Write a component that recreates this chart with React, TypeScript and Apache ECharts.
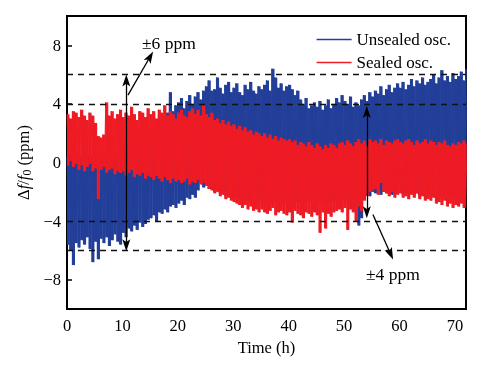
import React, { useEffect, useRef } from "react";
import * as echarts from "echarts";

// sample spacing of the envelope arrays (hours)
const STEP = 0.5;

// Unsealed oscillator: upper / lower envelope of the noise band (ppm), one value per 0.5 h
const unsealedHigh = [
  0.4, 0.5, 0.2, 0.6, 0.5, 0.3, 0.1, 0.5, 0.6, 0.4,
  0.5, 0.7, 0.4, 0.3, 0.8, 0.6, 0.5, 0.9, 0.7, 0.8,
  1.1, 0.9, 1.3, 1.4, 1.2, 1.6, 1.4, 1.7, 1.9, 1.6,
  2.2, 2.5, 2.4, 2.9, 2.7, 3.2, 3.4, 4.8, 3.5, 3.9,
  4.1, 4.4, 3.7, 4.2, 4.6, 4.0, 4.5, 4.8, 4.3, 4.9,
  5.2, 5.6, 4.9, 5.0, 5.8, 5.1, 4.7, 5.3, 5.5, 4.8,
  5.1, 5.4, 4.8, 4.6, 5.3, 5.0, 5.5, 4.9, 4.7, 5.2,
  5.0, 5.3, 5.6, 4.9, 6.4, 5.8, 5.1, 5.4, 4.9, 5.2,
  5.3, 5.0, 4.6, 4.9, 4.3, 4.0, 4.4, 3.7, 3.9, 4.1,
  3.8, 4.2, 3.6, 3.9, 4.3, 3.7, 4.0, 4.4, 4.1, 4.6,
  4.2, 4.0, 4.5, 3.8, 4.1, 3.9, 4.3, 4.6, 4.2, 4.8,
  4.5, 4.9, 4.7, 5.2, 4.6, 5.0, 5.3, 4.8, 5.1, 5.4,
  5.1, 5.5, 5.0, 5.3, 5.7, 5.2, 5.6, 5.4, 5.8, 5.3,
  5.5, 5.7, 6.0, 5.4, 5.8, 6.3, 5.6, 5.9, 5.5, 6.1,
  5.7, 5.9, 6.2, 5.6, 6.4,
];
const unsealedLow = [
  -5.6, -6.0, -7.0, -5.5, -5.8, -5.3, -5.6, -5.1, -5.9, -6.8,
  -5.4, -6.6, -5.2, -5.5, -5.1, -5.7, -5.3, -4.9, -5.4, -5.6,
  -4.8, -5.1, -4.5, -4.7, -4.3, -4.6, -4.1, -4.4, -4.2, -3.9,
  -3.8, -3.6, -4.0, -3.4, -3.5, -3.2, -3.4, -3.0, -2.9, -3.1,
  -2.8, -2.6, -2.9, -2.4, -2.5, -2.2, -2.4, -1.9, -1.4, -1.7,
  -1.5, -1.8, -1.7, -2.0, -1.9, -2.1, -2.0, -2.3, -2.2, -2.3,
  -2.3, -2.4, -2.5, -2.4, -2.6, -2.5, -2.7, -2.6, -2.5, -2.6,
  -2.6, -2.7, -2.6, -2.8, -2.6, -2.7, -2.7, -2.8, -2.6, -2.7,
  -2.7, -2.8, -2.6, -2.7, -2.7, -2.8, -2.6, -2.7, -2.7, -2.8,
  -2.7, -2.6, -2.7, -2.8, -2.6, -2.7, -2.6, -2.6, -2.5, -2.6,
  -2.5, -2.6, -2.4, -3.2, -2.5, -4.3, -3.8, -2.3, -2.1, -2.3,
  -2.0, -2.1, -1.9, -2.2, -2.0, -2.1, -2.0, -2.2, -2.1, -2.1,
  -2.0, -2.2, -2.1, -2.1, -2.0, -2.2, -2.1, -2.3, -2.2, -2.2,
  -2.1, -2.3, -2.2, -2.4, -2.3, -2.4, -2.3, -2.4, -2.3, -2.5,
  -2.4, -2.5, -2.5, -2.6, -2.5,
];

// Sealed oscillator
const sealedHigh = [
  3.3, 3.0, 3.5, 3.4, 3.1, 3.6, 3.2, 2.9, 3.4, 3.2,
  2.7, 1.8, 1.7, 1.9, 4.1, 3.2, 3.5, 3.0, 3.3, 3.6,
  3.1, 3.4, 3.2, 3.8, 3.3, 2.9, 3.5, 3.4, 3.1, 3.7,
  3.3, 3.5, 3.0, 3.6, 3.4, 3.9, 3.2, 3.5, 3.3, 3.0,
  3.4, 3.6, 3.2, 3.1, 3.5, 3.7, 3.3, 3.6, 3.2, 3.9,
  3.3, 3.1, 3.4, 2.9, 3.0, 2.7, 2.9, 2.6, 2.8, 2.5,
  2.6, 2.3, 2.5, 2.2, 2.4, 2.1, 2.2, 1.9, 2.1, 2.0,
  1.8, 2.0, 1.7, 1.9, 1.6, 1.8, 1.5, 1.7, 1.6, 1.5,
  1.6, 1.4, 1.5, 1.2, 1.4, 1.3, 1.1, 1.4, 1.2, 1.0,
  1.3, 1.1, 0.9, 1.2, 1.0, 1.3, 1.2, 1.0, 1.3, 1.4,
  1.2, 1.5, 1.3, 1.1, 1.4, 1.6, 1.3, 1.5, 1.2, 1.6,
  1.4, 1.5, 1.3, 1.6, 1.2, 1.5, 1.4, 1.3, 1.5, 1.6,
  1.4, 1.3, 1.5, 1.6, 1.4, 1.2, 1.5, 1.3, 1.4, 1.6,
  1.3, 1.5, 1.4, 1.2, 1.4, 1.3, 1.5, 1.2, 1.1, 1.3,
  1.2, 1.4, 1.3, 1.5, 1.3,
];
const sealedLow = [
  -0.2, 0.1, -0.3, -0.1, -0.5, -0.2, -0.6, -0.3, -0.1, -0.6,
  -0.4, -2.5, -0.5, -0.3, -0.7, -0.5, -0.4, -0.8, -0.6, -0.7,
  -0.6, -0.9, -0.7, -0.5, -1.0, -0.8, -0.9, -0.7, -1.1, -0.9,
  -1.0, -1.2, -0.9, -1.1, -1.3, -1.0, -1.2, -1.4, -1.1, -1.3,
  -1.2, -1.4, -1.3, -1.1, -1.5, -1.3, -1.4, -1.2, -1.5, -1.4,
  -1.6, -1.8, -1.9, -2.1, -2.0, -2.3, -2.2, -2.5, -2.4, -2.6,
  -2.7, -2.8, -2.9, -3.1, -2.9, -3.2, -3.0, -3.3, -3.2, -3.4,
  -3.2, -3.4, -3.5, -3.3, -3.1, -3.6, -3.4, -3.3, -3.5, -3.6,
  -3.4, -4.1, -3.3, -3.5, -3.6, -3.8, -3.4, -3.5, -3.7, -3.4,
  -3.6, -4.8, -3.4, -4.5, -3.5, -3.7, -3.4, -3.3, -3.2, -3.4,
  -3.1, -4.6, -3.2, -3.4, -4.0, -3.0, -3.3, -2.6, -2.3, -2.0,
  -1.9, -1.8, -2.2, -1.4, -2.0, -2.1, -2.3, -2.0, -2.4, -2.2,
  -2.1, -2.4, -2.3, -2.5, -2.2, -2.4, -2.1, -2.5, -2.3, -2.6,
  -2.5, -2.6, -2.4, -2.8, -2.7, -2.9, -2.6, -3.0, -2.8, -3.1,
  -2.9, -3.0, -2.8, -3.1, -3.0,
];

const xTicks = [0, 10, 20, 30, 40, 50, 60, 70];
const yTicks = [-8, -4, 0, 4, 8];
const limitLines = [6, 4, -4, -6];
const seriesNames = ["Unsealed osc.", "Sealed osc."];

const BLUE = "#233f99";
const RED = "#ee1c25";
const FONT = "Liberation Serif";
const FS = 16.5;
const ARROW = "path://M5,0 L10,13 L5,10 L0,13 Z";

function zigzag(hi: number[], lo: number[]) {
  const out: number[][] = [];
  hi.forEach((h, k) => {
    out.push([k * STEP, h]);
    out.push([k * STEP + STEP / 2, lo[k]]);
  });
  return out;
}

// solid band: one rect per sample, from the lower to the upper envelope
function band(name: string, hi: number[], lo: number[], color: string, z: number) {
  return [
    {
      name: name + " band", type: "custom", silent: true, clip: true, z,
      data: hi.map((h, k) => [k * STEP, lo[k], h]),
      encode: { x: 0, y: [1, 2] },
      renderItem: (_p: any, api: any) => {
        const t = api.value(0);
        const a = api.coord([t - STEP / 4, api.value(2)]);
        const b = api.coord([t + STEP * 0.75, api.value(1)]);
        return {
          type: "rect",
          shape: { x: a[0], y: a[1], width: b[0] - a[0] + 0.4, height: b[1] - a[1] },
          style: { fill: color },
        };
      },
    },
    {
      name, type: "line", symbol: "none", silent: true, z,
      data: zigzag(hi, lo), lineStyle: { color, width: 0.9 }, itemStyle: { color },
    },
  ];
}

export default function App() {
  const ref = useRef<HTMLDivElement>(null);
  useEffect(() => {
    if (!ref.current) return;
    const chart = echarts.init(ref.current, null, { renderer: "svg" });
    const txt = { fontFamily: FONT, fontSize: FS, color: "#000" };
    chart.setOption({
      animation: false,
      textStyle: txt,
      grid: {
        left: 67, right: 24, top: 16, bottom: 56,
        show: true, borderColor: "#000", borderWidth: 2, backgroundColor: "transparent",
      },
      legend: {
        orient: "vertical", right: 34, top: 26, icon: "rect", itemWidth: 35, itemHeight: 1.5, itemGap: 6,
        textStyle: { fontFamily: FONT, fontSize: 17, color: "#000" },
        data: seriesNames,
      },
      xAxis: {
        type: "value", min: 0, max: 72,
        name: "Time (h)", nameLocation: "middle", nameGap: 30,
        nameTextStyle: txt,
        axisLine: { lineStyle: { color: "#000", width: 2 } },
        axisTick: { inside: true, length: 5, customValues: xTicks, lineStyle: { color: "#000", width: 1.5 } },
        axisLabel: { customValues: xTicks, ...txt, margin: 8 },
        splitLine: { show: false },
      },
      yAxis: {
        type: "value", min: -10, max: 10,
        name: "{d|Δ}{i|f}{d|/}{i|f}{s|0}{d| (ppm)}",
        nameLocation: "middle", nameGap: 34, nameRotate: 90,
        nameTextStyle: {
          rich: {
            d: { fontFamily: FONT, fontSize: FS, color: "#000" },
            i: { fontFamily: FONT, fontSize: FS, fontStyle: "italic", color: "#000" },
            s: { fontFamily: FONT, fontSize: 12, color: "#000", padding: [7, 0, 0, 0] },
          },
        },
        axisLine: { lineStyle: { color: "#000", width: 2 } },
        axisTick: { inside: true, length: 5, customValues: yTicks, lineStyle: { color: "#000", width: 1.5 } },
        axisLabel: {
          customValues: yTicks, ...txt, margin: 6,
          formatter: (v: number) => String(v).replace("-", "\u2212"),
        },
        splitLine: { show: false },
      },
      series: [
        ...band(seriesNames[0], unsealedHigh, unsealedLow, BLUE, 2),
        ...band(seriesNames[1], sealedHigh, sealedLow, RED, 3),
        {
          name: "limits", type: "line", data: [], z: 5, silent: true,
          markLine: {
            silent: true, symbol: "none", label: { show: false },
            lineStyle: { color: "#111", type: [6, 5], width: 1.3 },
            emphasis: { disabled: true },
            data: limitLines.map((v) => ({ yAxis: v })),
          },
        },
        {
          name: "arrows", type: "line", data: [], z: 6, silent: true,
          markLine: {
            silent: true, symbolSize: [8, 12], label: { show: false },
            lineStyle: { color: "#000", type: "solid", width: 1.3 },
            emphasis: { disabled: true },
            data: [
              [{ coord: [10.7, 5.6], symbol: ARROW }, { coord: [10.7, -5.65], symbol: ARROW }],
              [{ coord: [11.0, 4.6], symbol: "none" }, { coord: [15.0, 7.22], symbol: ARROW }],
              [{ coord: [54.1, 3.45], symbol: ARROW }, { coord: [54.1, -3.4], symbol: ARROW }],
              [{ coord: [55.2, -3.55], symbol: "none" }, { coord: [58.4, -6.25], symbol: ARROW }],
            ],
          },
        },
      ],
      graphic: [
        { type: "text", left: 142, top: 34, style: { text: "±6 ppm", font: `17.5px "${FONT}"`, fill: "#000" } },
        { type: "text", left: 366, top: 265, style: { text: "±4 ppm", font: `17.5px "${FONT}"`, fill: "#000" } },
      ],
    });
    return () => chart.dispose();
  }, []);
  return (
    <div
      ref={ref}
      style={{ position: "fixed", left: 0, top: 0, width: 490, height: 365 }}
    />
  );
}
